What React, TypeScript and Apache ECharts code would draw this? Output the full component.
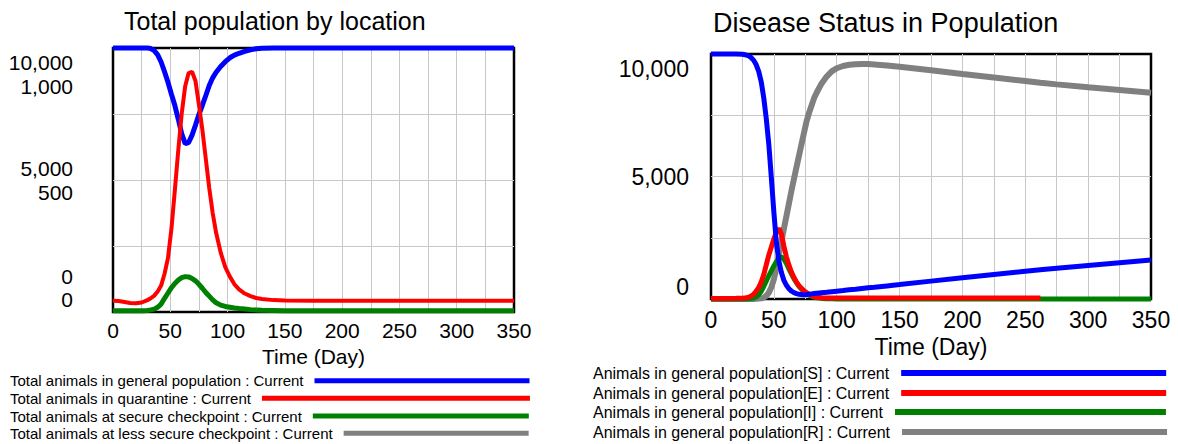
import React, { useEffect, useRef } from "react";
import * as echarts from "echarts";

// ---------- DATA ----------
const leftDays = [0, 5, 10, 15, 20, 25, 30, 33, 36, 39, 42, 45, 48, 51, 54, 57, 60, 63, 66, 69, 72, 75, 78, 81, 84, 87, 90, 94, 98, 102, 106, 110, 115, 120, 125, 130, 140, 150, 175, 200, 250, 300, 350];
const leftGeneral = [10000, 10000, 10000, 10000, 10000, 10000, 10000, 9980, 9900, 9740, 9470, 9100, 8700, 8250, 7820, 7300, 6750, 6380, 6420, 6700, 7080, 7480, 7830, 8200, 8580, 8870, 9080, 9300, 9480, 9630, 9730, 9800, 9870, 9930, 9970, 9990, 10000, 10000, 10000, 10000, 10000, 10000, 10000];
const leftQuarantine = [43, 42, 38, 34, 33, 36, 45, 52, 62, 78, 100, 145, 205, 315, 462, 614, 753, 855, 905, 910, 875, 785, 690, 580, 470, 375, 300, 225, 170, 134, 105, 86, 70, 60, 53, 49, 45, 44, 43, 43, 43, 43, 43];
const leftSecure = [5, 5, 5, 5, 5, 5, 6, 8, 11, 18, 30, 52, 72, 92, 108, 121, 130, 134, 133, 127, 118, 105, 90, 74, 60, 46, 35, 26, 21, 18, 15, 13, 11, 9, 8, 7, 6, 5, 5, 5, 5, 5, 5];
const leftLessSecureDays = [0, 350];
const leftLessSecure = [0, 0];

const rightDays = [0, 5, 10, 15, 20, 25, 28, 30, 32, 34, 36, 38, 40, 42, 44, 46, 48, 50, 52, 54, 56, 58, 60, 62, 64, 66, 68, 70, 72, 74, 76, 78, 80, 82, 84, 88, 92, 96, 100, 105, 110, 115, 120, 125, 130, 140, 150, 175, 200, 225, 250, 262, 264, 275, 300, 325, 350];
const rightS = [10000, 10000, 10000, 10000, 10000, 9990, 9960, 9920, 9850, 9740, 9560, 9280, 8850, 8200, 7350, 6300, 4950, 3550, 2300, 1550, 1080, 760, 560, 420, 320, 260, 220, 195, 180, 175, 180, 195, 210, 225, 235, 255, 275, 300, 320, 345, 375, 400, 430, 455, 480, 535, 590, 730, 870, 1000, 1130, 1190, 1200, 1255, 1370, 1480, 1590];
const rightE = [20, 20, 22, 24, 27, 35, 50, 70, 120, 200, 320, 480, 700, 1000, 1400, 1800, 2120, 2450, 2720, 2880, 2650, 2150, 1720, 1380, 1100, 880, 690, 540, 430, 340, 260, 200, 140, 100, 75, 55, 45, 40, 40, 40, 40, 40, 40, 40, 40, 40, 40, 40, 40, 40, 40, 40, null, null, null, null, null];
const rightI = [0, 0, 0, 0, 0, 2, 5, 10, 20, 40, 80, 180, 320, 520, 740, 950, 1150, 1350, 1520, 1680, 1720, 1620, 1450, 1230, 1020, 830, 660, 520, 400, 300, 220, 160, 110, 75, 50, 25, 12, 6, 3, 0, 0, 0, 0, 0, 0, 0, 0, 0, 0, 0, 0, 0, 0, 0, 0, 0, 0];
const rightR = [0, 0, 0, 0, 0, 0, 0, 0, 0, 0, 5, 15, 30, 60, 130, 260, 480, 800, 1250, 1800, 2350, 2870, 3380, 3900, 4420, 4900, 5380, 5850, 6320, 6790, 7250, 7600, 7900, 8200, 8420, 8800, 9080, 9290, 9420, 9510, 9560, 9585, 9595, 9590, 9570, 9530, 9480, 9340, 9180, 9040, 8900, 8830, 8820, 8760, 8640, 8530, 8420];

const leftMainTickLabels = ["10,000", "5,000", "0"];
const leftSubTickLabels = ["1,000", "500", "0"];
const rightTickLabels = ["10,000", "5,000", "0"];

const leftNames = [
  "Total animals in general population : Current",
  "Total animals in quarantine : Current",
  "Total animals at secure checkpoint : Current",
  "Total animals at less secure checkpoint : Current",
];
const rightNames = [
  "Animals in general population[S] : Current",
  "Animals in general population[E] : Current",
  "Animals in general population[I] : Current",
  "Animals in general population[R] : Current",
];

// ---------- STYLE / LAYOUT ----------
const FONT = '"Liberation Sans", Arial, Helvetica, sans-serif';
const BLUE = "#0000ff";
const RED = "#ff0000";
const GREEN = "#008000";
const GRAY = "#808080";
const GRIDC = "#c8c8c8";

const LG = { left: 113, top: 48, width: 401, height: 264 };
const RG = { left: 711, top: 54, width: 440, height: 245 };

const leftMainY = [62.7, 168, 276.7];
const leftSubY = [86, 192, 299];
const rightLabelY = [69.3, 176.7, 286.7];

const leftLegendRowY = [380.7, 398.3, 416, 433.3];
const leftLegendLineWidth = [215, 268, 216, 185];
const rightLegendRowY = [373, 393, 412, 432];
const rightLegendLineWidth = [265, 265, 271, 265];

const pairs = (days: number[], vals: (number | null)[]) => days.map((d, i) => [d, vals[i]]);

function xAxisCfg(grid: number, size: number, margin: number, gap: number) {
  return {
    type: "value",
    gridIndex: grid,
    min: 0,
    max: 350,
    interval: 25,
    axisLine: { show: false },
    axisTick: { show: false },
    splitLine: { show: true, showMinLine: false, showMaxLine: false, lineStyle: { color: GRIDC, width: 1 } },
    axisLabel: {
      formatter: (v: number) => (v % 50 === 0 ? String(v) : ""),
      fontSize: size,
      fontFamily: FONT,
      color: "#000",
      margin,
    },
    name: "Time (Day)",
    nameLocation: "middle",
    nameGap: gap,
    nameTextStyle: { fontSize: size, fontFamily: FONT, color: "#000" },
  };
}

function yAxisCfg(grid: number, max: number, show: boolean) {
  return {
    type: "value",
    gridIndex: grid,
    min: 0,
    max,
    interval: max / 4,
    show,
    axisLabel: { show: false },
    axisLine: { show: false },
    axisTick: { show: false },
    splitLine: { show: true, showMinLine: false, showMaxLine: false, lineStyle: { color: GRIDC, width: 1 } },
  };
}

function lineSeries(name: string, data: any[], xi: number, yi: number, color: string, width: number, z: number) {
  return {
    type: "line",
    name,
    data,
    xAxisIndex: xi,
    yAxisIndex: yi,
    symbol: "none",
    showSymbol: false,
    clip: false,
    z,
    lineStyle: { color, width },
    itemStyle: { color },
    emphasis: { disabled: true },
  };
}

function legendCfg(name: string, left: number, rowY: number, lineWidth: number, size: number, lh: number, thick: number, gapPad: number) {
  return {
    data: [{ name, icon: "rect" }],
    left,
    top: rowY - lh / 2,
    orient: "horizontal",
    align: "right",
    padding: 0,
    itemWidth: lineWidth,
    itemHeight: thick,
    selectedMode: false,
    textStyle: { fontSize: size, fontFamily: FONT, color: "#000", lineHeight: lh, padding: [0, gapPad, 0, 0] },
  };
}

function yText(text: string, x: number, y: number, size: number) {
  return {
    type: "text",
    x,
    y,
    silent: true,
    style: { text, align: "right", verticalAlign: "middle", fontSize: size, fontFamily: FONT, fill: "#000" },
  };
}

export default function App() {
  const ref = useRef<HTMLDivElement>(null);

  useEffect(() => {
    document.body.style.margin = "0";
    if (!ref.current) return;
    const chart = echarts.init(ref.current, undefined, { renderer: "svg" });
    const leftColors = [BLUE, RED, GREEN, GRAY];
    const rightColors = [BLUE, RED, GREEN, GRAY];

    const graphics: any[] = [];
    leftMainTickLabels.forEach((t, i) => graphics.push(yText(t, 73, leftMainY[i], 21)));
    leftSubTickLabels.forEach((t, i) => graphics.push(yText(t, 73, leftSubY[i], 21)));
    rightTickLabels.forEach((t, i) => graphics.push(yText(t, 689, rightLabelY[i], 23)));

    const legends: any[] = [];
    leftNames.forEach((n, i) =>
      legends.push(legendCfg(n, 10, leftLegendRowY[i], leftLegendLineWidth[i], 15, 18, 5, 6))
    );
    rightNames.forEach((n, i) =>
      legends.push(legendCfg(n, 593, rightLegendRowY[i], rightLegendLineWidth[i], 16, 19, 6, 7))
    );

    chart.setOption({
      animation: false,
      backgroundColor: "#fff",
      title: [
        {
          text: "Total population by location",
          left: 124,
          top: 8,
          padding: 0,
          textStyle: { fontSize: 25, fontWeight: "normal", fontFamily: FONT, color: "#000" },
        },
        {
          text: "Disease Status in Population",
          left: 713,
          top: 9,
          padding: 0,
          textStyle: { fontSize: 27, fontWeight: "normal", fontFamily: FONT, color: "#000" },
        },
      ],
      legend: legends,
      grid: [
        { ...LG, show: true, borderColor: "#000", borderWidth: 2.5, backgroundColor: "transparent", containLabel: false },
        { ...RG, show: true, borderColor: "#000", borderWidth: 2.5, backgroundColor: "transparent", containLabel: false },
      ],
      xAxis: [xAxisCfg(0, 21, 8, 30), xAxisCfg(1, 23, 9, 36)],
      yAxis: [yAxisCfg(0, 10000, true), yAxisCfg(0, 1000, false), yAxisCfg(1, 10000, true)],
      series: [
        lineSeries(leftNames[3], pairs(leftLessSecureDays, leftLessSecure), 0, 0, leftColors[3], 2, -1),
        lineSeries(leftNames[0], pairs(leftDays, leftGeneral), 0, 0, leftColors[0], 5, 2),
        lineSeries(leftNames[1], pairs(leftDays, leftQuarantine), 0, 1, leftColors[1], 4, 3),
        lineSeries(leftNames[2], pairs(leftDays, leftSecure), 0, 1, leftColors[2], 5, 4),
        lineSeries(rightNames[3], pairs(rightDays, rightR), 1, 2, rightColors[3], 6, 2),
        lineSeries(rightNames[2], pairs(rightDays, rightI), 1, 2, rightColors[2], 5, 3),
        lineSeries(rightNames[1], pairs(rightDays, rightE), 1, 2, rightColors[1], 5, 4),
        lineSeries(rightNames[0], pairs(rightDays, rightS), 1, 2, rightColors[0], 5, 5),
      ],
      graphic: graphics,
    });
    return () => chart.dispose();
  }, []);

  return (
    <div
      ref={ref}
      style={{ position: "absolute", left: 0, top: 0, width: 1178, height: 444, background: "#fff" }}
    />
  );
}
